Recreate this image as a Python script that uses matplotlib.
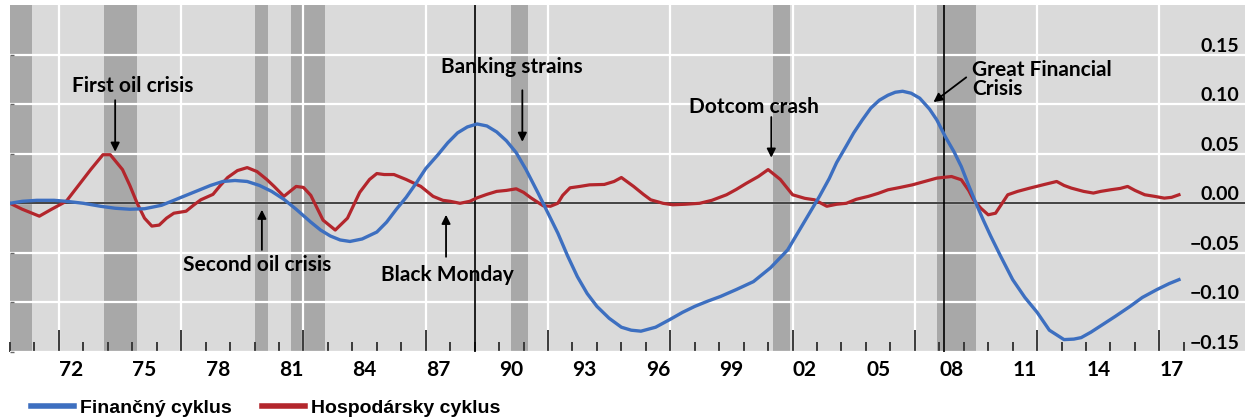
"""
Financial cycle vs. business cycle (US), 1970-2017, with crisis markers.

Writes: out.png
"""

import matplotlib.pyplot as plt
from matplotlib.lines import Line2D

BG_COL   = "#dadada"
REC_COL  = "#a8a8a8"
BLUE     = "#3d6fc0"
RED      = "#b3262c"
TICK_COL = "#3a3a3a"

FONT = ["Lato", "DejaVu Sans"]

# financial cycle (blue)
fin_years = [1970.0, 1970.5, 1971.1, 1971.8, 1972.3, 1973.0, 1973.7, 1974.3, 1974.9, 1975.5,
             1976.2, 1977.0, 1977.6, 1978.2, 1978.7, 1979.2, 1979.7, 1980.2, 1980.7, 1981.2,
             1981.7, 1982.3, 1982.7, 1983.1, 1983.5, 1983.9, 1984.4, 1985.0, 1985.4, 1985.8,
             1986.2, 1986.6, 1987.0, 1987.5, 1987.9, 1988.3, 1988.7, 1989.1, 1989.5, 1989.9,
             1990.3, 1990.7, 1991.1, 1991.6, 1992.0, 1992.4, 1992.8, 1993.2, 1993.6, 1994.0,
             1994.5, 1995.0, 1995.4, 1995.8, 1996.4, 1997.0, 1997.5, 1998.0, 1998.5, 1999.05,
             1999.7, 2000.4, 2001.1, 2001.8, 2002.45, 2003.1, 2003.5, 2003.8, 2004.2, 2004.5,
             2004.85, 2005.2, 2005.55, 2005.9, 2006.2, 2006.5, 2006.85, 2007.2, 2007.6, 2007.9,
             2008.25, 2008.6, 2008.9, 2009.2, 2009.5, 2009.8, 2010.1, 2010.5, 2011.0, 2011.5,
             2012.0, 2012.5, 2013.1, 2013.5, 2013.8, 2014.2, 2014.7, 2015.2, 2015.8, 2016.3,
             2016.9, 2017.4, 2017.8]
fin_values = [0.000, 0.002, 0.003, 0.003, 0.002, 0.000, -0.003, -0.005, -0.006, -0.0055,
              -0.002, 0.006, 0.012, 0.018, 0.022, 0.023, 0.022, 0.018, 0.012, 0.004,
              -0.006, -0.019, -0.027, -0.033, -0.037, -0.0385, -0.036, -0.029, -0.019, -0.006,
              0.006, 0.020, 0.035, 0.049, 0.061, 0.071, 0.077, 0.080, 0.078, 0.072,
              0.063, 0.051, 0.034, 0.010, -0.010, -0.030, -0.053, -0.074, -0.091, -0.104,
              -0.116, -0.125, -0.128, -0.129, -0.125, -0.117, -0.110, -0.104, -0.099, -0.094,
              -0.087, -0.079, -0.065, -0.047, -0.020, 0.007, 0.025, 0.041, 0.058, 0.071,
              0.084, 0.096, 0.104, 0.109, 0.112, 0.113, 0.111, 0.106, 0.095, 0.084,
              0.067, 0.052, 0.037, 0.018, 0.000, -0.017, -0.033, -0.053, -0.077, -0.095,
              -0.110, -0.128, -0.1375, -0.137, -0.1355, -0.130, -0.122, -0.114, -0.104, -0.095,
              -0.087, -0.081, -0.077]

# business cycle (red)
bus_years = [1970.0, 1970.5, 1971.2, 1971.7, 1972.3, 1972.8, 1973.3, 1973.8, 1974.1, 1974.6,
             1974.9, 1975.2, 1975.5, 1975.8, 1976.1, 1976.4, 1976.7, 1977.2, 1977.5, 1977.8,
             1978.3, 1978.6, 1978.9, 1979.3, 1979.7, 1980.1, 1980.5, 1980.8, 1981.2, 1981.5,
             1981.7, 1982.0, 1982.3, 1982.6, 1982.8, 1983.3, 1983.8, 1984.3, 1984.7, 1985.0,
             1985.3, 1985.7, 1986.2, 1986.8, 1987.3, 1987.7, 1988.0, 1988.4, 1988.8, 1989.1,
             1989.5, 1989.9, 1990.3, 1990.7, 1991.0, 1991.3, 1991.8, 1992.1, 1992.4, 1992.6,
             1992.9, 1993.3, 1993.7, 1994.3, 1994.7, 1995.0, 1995.5, 1995.9, 1996.2, 1996.7,
             1997.1, 1997.6, 1998.2, 1998.7, 1999.3, 1999.7, 2000.1, 2000.6, 2001.0, 2001.5,
             2002.0, 2002.5, 2002.9, 2003.4, 2003.8, 2004.2, 2004.6, 2005.1, 2005.5, 2005.9,
             2006.4, 2006.9, 2007.4, 2007.9, 2008.5, 2008.9, 2009.2, 2009.4, 2009.7, 2010.0,
             2010.3, 2010.8, 2011.2, 2011.7, 2012.3, 2012.8, 2013.1, 2013.4, 2013.9, 2014.3,
             2014.6, 2015.0, 2015.4, 2015.7, 2016.0, 2016.4, 2016.8, 2017.2, 2017.5, 2017.8]
bus_values = [0.000, -0.006, -0.013, -0.006, 0.002, 0.018, 0.034, 0.049, 0.049, 0.034,
              0.018, 0.000, -0.015, -0.023, -0.022, -0.015, -0.010, -0.008, -0.002, 0.0035,
              0.009, 0.018, 0.026, 0.033, 0.036, 0.032, 0.024, 0.017, 0.007, 0.013,
              0.017, 0.016, 0.008, -0.007, -0.017, -0.027, -0.015, 0.011, 0.024, 0.030,
              0.029, 0.029, 0.024, 0.017, 0.007, 0.003, 0.002, 0.000, 0.002, 0.0055,
              0.009, 0.012, 0.013, 0.0146, 0.011, 0.0055, -0.0025, -0.003, 0.000, 0.008,
              0.0156, 0.017, 0.0186, 0.019, 0.022, 0.026, 0.017, 0.009, 0.0035, 0.000,
              -0.0015, -0.001, 0.000, 0.003, 0.0086, 0.014, 0.020, 0.027, 0.034, 0.024,
              0.0086, 0.005, 0.0035, -0.003, -0.001, 0.000, 0.004, 0.007, 0.010, 0.0136,
              0.016, 0.0186, 0.022, 0.0254, 0.027, 0.0237, 0.013, 0.0035, -0.005, -0.0116,
              -0.010, 0.0086, 0.012, 0.0153, 0.019, 0.022, 0.018, 0.0153, 0.012, 0.0103,
              0.012, 0.0136, 0.015, 0.017, 0.013, 0.0086, 0.007, 0.0052, 0.006, 0.0086]

# US recessions (shaded)
rec_start = [1970.0, 1973.85, 1980.0, 1981.5, 1990.5, 2001.2, 2007.9]
rec_end   = [1970.9, 1975.2, 1980.55, 1982.9, 1991.2, 2001.9, 2009.5]

# financial cycle peaks (black vertical lines)
peak_years = [1989.0, 2008.2]

x_label_years = list(range(1972, 2018, 3))
x_labels = [f"{y % 100:02d}" for y in x_label_years]
y_ticks = [-0.15, -0.10, -0.05, 0.00, 0.05, 0.10, 0.15]

# (text, text_x, text_y, arrow_x_tail, arrow_y_tail, arrow_x_head, arrow_y_head, ha)
events = [
    ("First oil crisis", 1975.0, 0.118, 1974.3, 0.104, 1974.3, 0.052, "center"),
    ("Banking strains", 1990.5, 0.137, 1990.95, 0.114, 1990.95, 0.062, "center"),
    ("Dotcom crash", 2000.4, 0.097, 2001.13, 0.087, 2001.13, 0.046, "center"),
    ("Great Financial\nCrisis", 2009.35, 0.125, 2009.1, 0.127, 2007.76, 0.102, "left"),
    ("Second oil crisis", 1980.1, -0.062, 1980.3, -0.047, 1980.3, -0.0065, "center"),
    ("Black Monday", 1987.9, -0.072, 1987.83, -0.054, 1987.83, -0.0116, "center"),
]


def main():
    fig = plt.figure(figsize=(12.47, 4.19), dpi=100)
    ax = fig.add_axes([10 / 1247, 67 / 419, 1235 / 1247, 347 / 419])
    ax.set_facecolor(BG_COL)
    for s in ax.spines.values():
        s.set_visible(False)

    ax.set_xlim(1970, 2020.5)
    ax.set_ylim(-0.15, 0.20)

    for a, b in zip(rec_start, rec_end):
        ax.axvspan(a, b, color=REC_COL, lw=0, zorder=0.2)

    # x ticks: long every 5 years (with grid), short every year
    ax.set_xticks(range(1972, 2021, 5))
    ax.set_xticks(range(1970, 2019), minor=True)
    ax.tick_params(axis="x", which="major", direction="in", length=16, width=1.4,
                   color=TICK_COL, labelbottom=False)
    ax.tick_params(axis="x", which="minor", direction="in", length=7, width=1.4,
                   color=TICK_COL)
    ax.grid(axis="x", which="major", color="white", lw=1.6)

    sec = ax.secondary_xaxis("bottom")
    sec.set_xticks([y + 0.5 for y in x_label_years], labels=x_labels)
    sec.tick_params(length=0, pad=6)
    sec.spines["bottom"].set_visible(False)
    for t in sec.get_xticklabels():
        t.set_family(FONT)
        t.set_fontweight("bold")
        t.set_fontsize(15)

    # y ticks: labels inside the plot, right side, sitting on the gridline
    ax.set_yticks(y_ticks)
    ax.set_yticklabels([f"{v:.2f}".replace("-", "\u2212") for v in y_ticks])
    ax.tick_params(axis="y", direction="in", length=3, width=1, color="#666666",
                   left=True, right=False, labelleft=False, labelright=True, pad=-4)
    for tk in ax.yaxis.get_major_ticks():
        tk.label2.set_ha("right")
        tk.label2.set_va("bottom")
        tk.label2.set_family(FONT)
        tk.label2.set_fontweight("bold")
        tk.label2.set_fontsize(14)
    ax.grid(axis="y", color="white", lw=1.6)
    ax.set_axisbelow(True)

    ax.axhline(0, color="#222222", lw=1.2, zorder=1.5)
    for px in peak_years:
        ax.axvline(px, color="black", lw=1.2, zorder=1.6)

    ax.plot(bus_years, bus_values, color=RED, lw=2.3, zorder=3)
    ax.plot(fin_years, fin_values, color=BLUE, lw=2.4, zorder=4)

    for txt, tx, ty, ax0, ay0, ax1, ay1, ha in events:
        ax.text(tx, ty, txt, ha=ha, va="center", fontsize=15, fontweight="bold",
                family=FONT, linespacing=0.95, zorder=6)
        ax.annotate("", xy=(ax1, ay1), xytext=(ax0, ay0),
                    arrowprops=dict(arrowstyle="-|>", color="black", lw=1.3,
                                    mutation_scale=13, shrinkA=0, shrinkB=0),
                    zorder=6)

    handles = [
        Line2D([], [], color=BLUE, lw=4),
        Line2D([], [], color=RED, lw=4),
    ]
    fig.legend(handles, ["Finančný cyklus", "Hospodársky cyklus"],
               loc="center left", bbox_to_anchor=(31 / 1247, 1 - 408 / 419),
               ncol=2, frameon=False, borderpad=0, borderaxespad=0,
               handlelength=2.2, handletextpad=0.3, columnspacing=1.6,
               prop=dict(family=["Liberation Sans", "DejaVu Sans"], weight="bold", size=14))

    fig.savefig("out.png", dpi=100)
    plt.close(fig)


if __name__ == "__main__":
    main()
